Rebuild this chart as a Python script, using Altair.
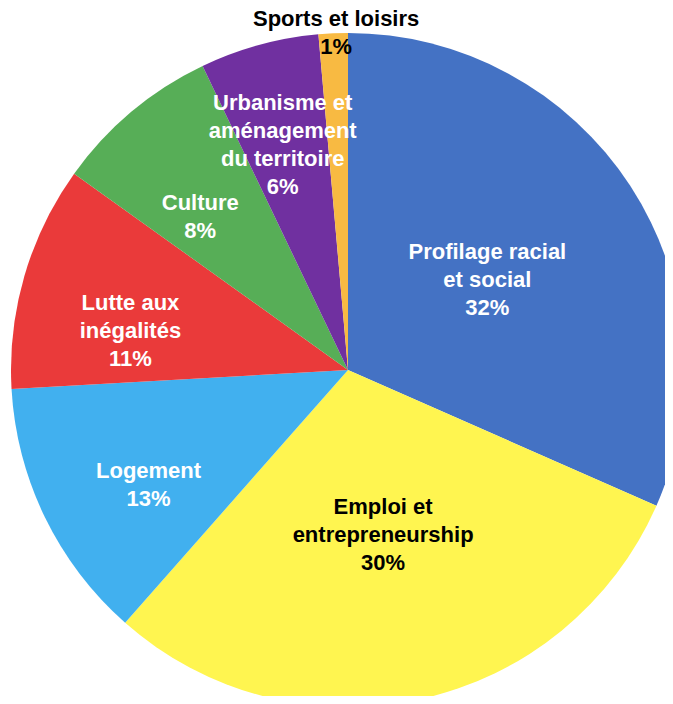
import altair as alt
import pandas as pd
import math

categories = ["Profilage racial et social", "Emploi et entrepreneurship", "Logement",
              "Lutte aux inégalités", "Culture", "Urbanisme et aménagement du territoire",
              "Sports et loisirs"]
values = [31.6, 29.9, 12.6, 10.8, 8.0, 5.7, 1.4]
labels = ["Profilage racial\net social\n32%",
          "Emploi et\nentrepreneurship\n30%",
          "Logement\n13%",
          "Lutte aux\ninégalités\n11%",
          "Culture\n8%",
          "Urbanisme et\naménagement\ndu territoire\n6%",
          "Sports et loisirs\n1%"]
colors = ["#4472C4", "#FFF550", "#41B0EF", "#EA3A3A", "#57AE57", "#7030A0", "#F8BA42"]
dark_label_categories = ["Emploi et entrepreneurship", "Sports et loisirs"]
# label placement: distance from centre (px) and angular shift from slice middle (value units)
label_radius = [166, 169, 230, 221, 213, 234, 337]
label_shift = [0.06, 0.12, -1.1, -1.7, -1.1, -0.25, 0.14]

df = pd.DataFrame({
    "idx": list(range(len(categories))),
    "category": categories,
    "value": values,
    "label": labels,
    "lr": label_radius,
    "shift": label_shift,
    "nlines": [s.count("\n") + 1 for s in labels],
})

total = sum(values)
LINE_H = 28

base = alt.Chart(df)

pie = base.mark_arc(radius=337).encode(
    theta=alt.Theta("value:Q", stack=True),
    order=alt.Order("idx:Q"),
    color=alt.Color("category:N", scale=alt.Scale(domain=categories, range=colors), legend=None),
    x=alt.value(340),
    y=alt.value(362),
)

label_base = base.transform_window(
    cum="sum(value)", sort=[alt.SortField("idx")],
    frame=[None, 0],
).transform_calculate(
    mid="datum.cum - datum.value / 2 + datum.shift"
)

layers = [pie]
for n in sorted(set(df["nlines"])):
    layers.append(
        label_base.transform_filter(alt.datum.nlines == n).mark_text(
            font="Liberation Sans", fontWeight="bold", fontSize=22, lineBreak="\n",
            lineHeight=LINE_H, align="center", baseline="middle",
            dy=-(n - 1) * LINE_H / 2,
        ).encode(
            theta=alt.Theta("mid:Q", stack=None,
                            scale=alt.Scale(domain=[0, total], range=[0, 2 * math.pi])),
            text="label:N",
            radius=alt.Radius("lr:Q", scale=None),
            color=alt.condition(
                alt.FieldOneOfPredicate(field="category", oneOf=dark_label_categories),
                alt.value("black"), alt.value("white")),
            x=alt.value(340),
            y=alt.value(362),
        )
    )

chart = alt.layer(*layers).resolve_scale(theta="independent").properties(
    width=657, height=688, autosize=alt.AutoSizeParams(type="none"), padding=0,
).configure_view(stroke=None)

chart.save("out.html", embed_options={"renderer": "svg", "actions": False})
